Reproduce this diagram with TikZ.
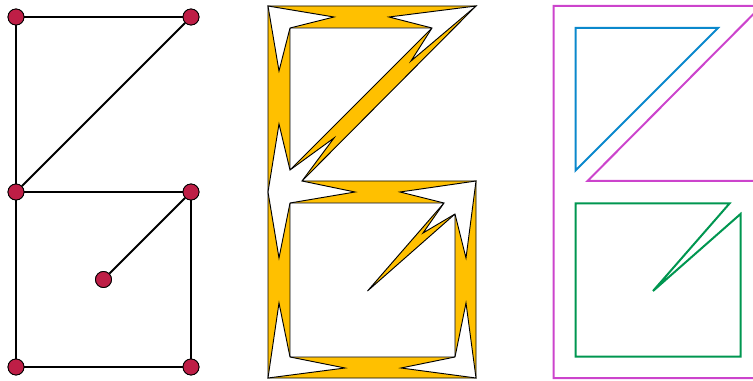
\documentclass[tikz,border=0pt]{standalone}
\usepackage{xcolor}
\usepackage{tikz}
\usetikzlibrary{positioning}

\definecolor{vertexred}{HTML}{BE1E46}
\definecolor{bandyellow}{HTML}{FFC000}
\definecolor{outermagenta}{HTML}{CC44CC}
\definecolor{faceblue}{HTML}{0A88CC}
\definecolor{facegreen}{HTML}{009650}

\begin{document}
\begin{tikzpicture}[
  x=0.75pt, y=-0.75pt,
  on grid, node distance=131.25pt,
  vertex/.style={circle, draw=black, fill=vertexred, line width=0.6pt, minimum size=12pt, inner sep=0pt},
  edge/.style={line width=1.5pt},
  band/.style={draw=black, fill=bandyellow, line width=0.7pt, line join=miter},
  hole/.style={draw=black, fill=white, line width=0.7pt, line join=miter},
  kite/.style={draw=black, fill=white, line width=0.7pt, line join=miter},
  face/.style={line width=1.5pt, line join=miter},
]
\clip (0,0) rectangle (753,381);

% Graph
\node[vertex] (a) at (16,17) {};
\node[vertex, right=of a] (b) {};
\node[vertex, below=of a] (c) {};
\node[vertex, below=of b] (d) {};
\node[vertex, below left=65.625pt and 65.625pt of d] (e) {};
\node[vertex, below=of c] (f) {};
\node[vertex, below=of d] (g) {};

\draw[edge] (a) -- (b);
\draw[edge] (a) -- (c);
\draw[edge] (b) -- (c);
\draw[edge] (c) -- (d);
\draw[edge] (c) -- (f);
\draw[edge] (d) -- (g);
\draw[edge] (f) -- (g);
\draw[edge] (d) -- (e);
% redraw vertices on top of the edges
\foreach \v in {a,b,c,d,e,f,g}
  \node[vertex] at (\v) {};

% Thickened graph
\draw[band] (268,6) -- (476,6) -- (302,181) -- (476,181) -- (476,378) -- (268,378) -- cycle;
\draw[hole] (290,28) -- (432,28) -- (290,170) -- cycle;
\draw[hole] (290,203) -- (444,203) -- (367.5,291) -- (455,214) -- (455,357) -- (290,357) -- cycle;

% Kites at the vertices
\draw[kite] (268,6) -- (334,17) -- (290,28) -- (279,71) -- cycle;
\draw[kite] (476,6) -- (389,17) -- (432,28) -- (411,61) -- cycle;
\draw[kite] (268,192) -- (279,124) -- (290,170) -- (334,138) -- (302,181)
  -- (355,192) -- (290,203) -- (279,258) -- cycle;
\draw[kite] (476,181) -- (400,192) -- (444,203) -- (423,233) -- (455,214) -- (466,258) -- cycle;
\draw[kite] (268,378) -- (279,303) -- (290,357) -- (345,368) -- cycle;
\draw[kite] (476,378) -- (401,368) -- (455,357) -- (466,303) -- cycle;

% Boundary and faces
\draw[face, outermagenta] (553.5,6) -- (761.5,6) -- (587.5,181) -- (761.5,181) -- (761.5,378) -- (553.5,378) -- cycle;
\draw[face, faceblue] (575.5,28) -- (718,28) -- (575.5,170.5) -- cycle;
\draw[face, facegreen] (575.5,203.5) -- (729.5,203.5) -- (653,291) -- (740.5,214) -- (740.5,356.5) -- (575.5,356.5) -- cycle;

\end{tikzpicture}
\end{document}
